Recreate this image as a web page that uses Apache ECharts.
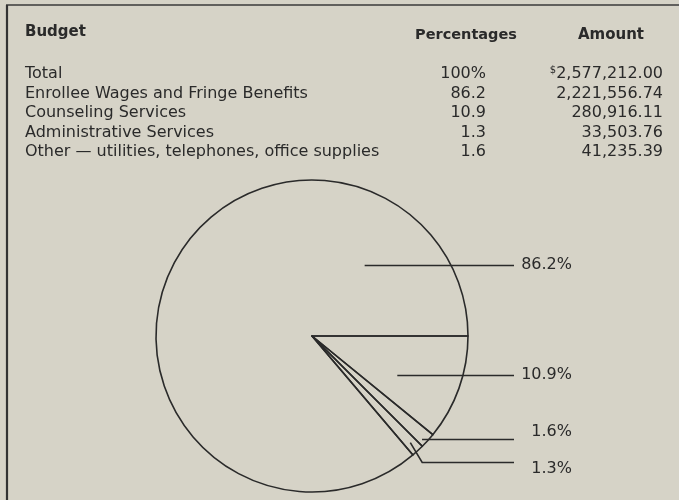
<!DOCTYPE html>
<html>
<head>
<meta charset="utf-8">
<script src="https://cdn.jsdelivr.net/npm/echarts@6/dist/echarts.min.js"></script>
<style>
  html, body { margin: 0; padding: 0; background: #d6d3c7; }
  #chart { width: 679px; height: 500px; }
</style>
</head>
<body>
<div id="chart"></div>
<script>
// ---- Data ----
const tableTitle = 'Budget';
const colHeaders = ['Percentages', 'Amount'];
const categories = [
  'Total',
  'Enrollee Wages and Fringe Benefits',
  'Counseling Services',
  'Administrative Services',
  'Other \u2014 utilities, telephones, office supplies'
];
const percentages = ['100%', '86.2', '10.9', '1.3', '1.6'];
const amounts = ['2,577,212.00', '2,221,556.74', '280,916.11', '33,503.76', '41,235.39'];
// pie slices, clockwise from 3 o'clock (indices into the table rows)
const pieOrder = [2, 4, 3, 1];
const pieLabels = ['10.9%', '1.6%', '1.3%', '86.2%'];

// ---- Layout / style constants ----
const INK = '#2a2a2a';
const FONT = '"DejaVu Sans", sans-serif';
const CX = 312, CY = 336, R = 156;
const rowY0 = 74, rowStep = 19.5;
const pctRight = 486, amtRight = 663;
const lineY = [375.5, 439.5, 462.5, 265.5]; // leader line heights
const labY = [375, 432, 469, 265];          // label centre heights
const startT = [0.36, 0.5, null, 0.69];     // where along the slice chord a leader starts
const lineEndX = 514, labelRightX = 572;

const pieValues = pieOrder.map(i => parseFloat(percentages[i]));
const pieData = pieOrder.map((i, k) => ({ name: categories[i], value: pieValues[k] }));
const total = pieValues.reduce((a, b) => a + b, 0);

function sliceAngles(k) {
  let before = 0;
  for (let j = 0; j < k; j++) before += pieValues[j];
  return [before / total * Math.PI * 2, (before + pieValues[k]) / total * Math.PI * 2];
}
function chordInSlice(k, y) {
  const [a0, a1] = sliceAngles(k);
  const dy = y - CY;
  if (Math.abs(dy) >= R) return null;
  const half = Math.sqrt(R * R - dy * dy);
  let xmin = null, xmax = null;
  for (let dx = -half; dx <= half; dx += 0.5) {
    let a = Math.atan2(dy, dx);
    if (a < 0) a += Math.PI * 2;
    if (a >= a0 && a <= a1) {
      if (xmin === null) xmin = dx;
      xmax = dx;
    }
  }
  return xmin === null ? null : [xmin, xmax];
}

const graphics = [];
// frame
graphics.push({ type: 'line', shape: { x1: 6, y1: 5, x2: 679, y2: 5 }, style: { stroke: '#3a3a3a', lineWidth: 1.5 }, silent: true });
graphics.push({ type: 'line', shape: { x1: 7, y1: 5, x2: 7, y2: 500 }, style: { stroke: '#333', lineWidth: 2.2 }, silent: true });
// headers
graphics.push({ type: 'text', x: 25, y: 32, style: { text: tableTitle, font: 'bold 15px ' + FONT, fill: INK, textVerticalAlign: 'middle' }, silent: true });
graphics.push({ type: 'text', x: 466, y: 35, style: { text: colHeaders[0], font: 'bold 14.5px ' + FONT, fill: INK, textAlign: 'center', textVerticalAlign: 'middle' }, silent: true });
graphics.push({ type: 'text', x: 611, y: 35, style: { text: colHeaders[1], font: 'bold 15px ' + FONT, fill: INK, textAlign: 'center', textVerticalAlign: 'middle' }, silent: true });
// rows
categories.forEach((c, i) => {
  const y = rowY0 + i * rowStep;
  graphics.push({ type: 'text', x: 25, y: y, style: { text: c, font: '16px ' + FONT, fill: INK, textVerticalAlign: 'middle' }, silent: true });
  graphics.push({ type: 'text', x: pctRight, y: y, style: { text: percentages[i], font: '16px ' + FONT, fill: INK, textAlign: 'right', textVerticalAlign: 'middle' }, silent: true });
  graphics.push({ type: 'text', x: amtRight, y: y, style: {
    text: (i === 0 ? '{s|$}' : '') + '{n|' + amounts[i] + '}',
    rich: {
      s: { font: '10px ' + FONT, fill: INK, verticalAlign: 'top', lineHeight: 17 },
      n: { font: '16px ' + FONT, fill: INK, lineHeight: 17 }
    },
    textAlign: 'right', textVerticalAlign: 'middle'
  }, silent: true });
});

const chart = echarts.init(document.getElementById('chart'), null, { renderer: 'canvas' });
chart.setOption({
  backgroundColor: '#d6d3c7',
  animation: false,
  graphic: graphics,
  series: [{
    type: 'pie',
    center: [CX, CY],
    radius: R,
    startAngle: 0,
    clockwise: true,
    avoidLabelOverlap: false,
    silent: true,
    emphasis: { disabled: true },
    itemStyle: { color: 'rgba(0,0,0,0)', borderColor: '#2a2a2a', borderWidth: 1.6 },
    label: {
      show: true,
      position: 'outside',
      formatter: p => pieLabels[p.dataIndex],
      fontSize: 16,
      fontFamily: FONT,
      color: INK
    },
    labelLine: { show: true, length: 10, length2: 10, smooth: false, lineStyle: { color: '#2a2a2a', width: 1.6, opacity: 1 } },
    labelLayout: function (params) {
      const k = params.dataIndex;
      const ly = lineY[k];
      const ch = startT[k] != null ? chordInSlice(k, ly) : null;
      let pts;
      if (ch) {
        const sx = CX + ch[0] + startT[k] * (ch[1] - ch[0]);
        pts = [[sx, ly], [sx, ly], [lineEndX, ly]];
      } else {
        const [a0, a1] = sliceAngles(k);
        const m = (a0 + a1) / 2;
        const px = CX + 0.93 * R * Math.cos(m), py = CY + 0.93 * R * Math.sin(m);
        pts = [[px, py], [px + (ly - py) * 0.6, ly], [lineEndX, ly]];
      }
      return { x: labelRightX, y: labY[k], align: 'right', verticalAlign: 'middle', labelLinePoints: pts };
    },
    data: pieData
  }]
});
</script>
</body>
</html>
